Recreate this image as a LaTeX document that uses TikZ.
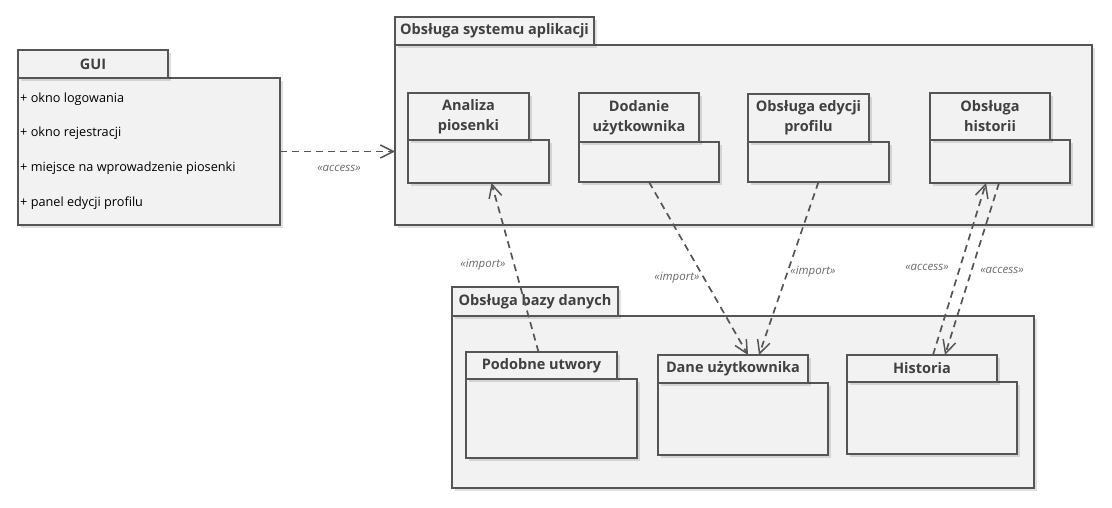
\documentclass[tikz,border=0pt]{standalone}
\usepackage{fontspec}
\setmainfont{Open Sans}
\usetikzlibrary{arrows.meta,shadows}
\definecolor{lc}{HTML}{555555}
\definecolor{bg}{HTML}{F2F2F2}
\definecolor{tc}{HTML}{404040}
\definecolor{lbl}{HTML}{6A6A6A}
\begin{document}
\begin{tikzpicture}[x=1pt,y=-1pt,
  box/.style={draw=lc, fill=bg, line width=1.6pt, inner sep=0pt, outer sep=0pt, anchor=north west,
    text=tc, align=center, font=\fontsize{14.5}{20}\selectfont\bfseries,
    drop shadow={shadow xshift=3pt, shadow yshift=-3pt, opacity=0.12, fill=black}},
  item/.style={anchor=west, inner sep=0pt, text=black, font=\fontsize{12.7}{14}\selectfont},
  dep/.style={draw=lc, line width=1.7pt, dash pattern=on 7pt off 5pt,
    -{Straight Barb[length=13pt,width=13pt,line width=1.5pt]}},
  stereo/.style={text=lbl, inner sep=1pt, font=\fontsize{11.5}{13}\selectfont\itshape}
]
\useasboundingbox (0,0) rectangle (1112,508);

% GUI
\node[box, minimum width=262pt, minimum height=147pt] (guiB) at (18,78) {};
\node[box, minimum width=150pt, minimum height=28pt] (guiT) at (18,50) {GUI};
\node[item] (g1) at (20,99) {+ okno logowania};
\node[item] (g2) at (20,133) {+ okno rejestracji};
\node[item] (g3) at (20,168) {+ miejsce na wprowadzenie piosenki};
\node[item] (g4) at (20,203) {+ panel edycji profilu};

% Obsługa systemu aplikacji
\node[box, minimum width=697pt, minimum height=180pt] (sysB) at (395,45) {};
\node[box, minimum width=199pt, minimum height=28pt] (sysT) at (395,17) {Obsługa systemu aplikacji};

\node[box, minimum width=141pt, minimum height=43pt] (anB) at (408,140) {};
\node[box, minimum width=121pt, minimum height=47pt] (anT) at (408,93) {Analiza\\piosenki};

\node[box, minimum width=140pt, minimum height=40pt] (doB) at (579,142) {};
\node[box, minimum width=120pt, minimum height=49pt] (doT) at (579,93) {Dodanie\\użytkownika};

\node[box, minimum width=141pt, minimum height=40pt] (edB) at (748,142) {};
\node[box, minimum width=121pt, minimum height=48pt] (edT) at (748,94) {Obsługa edycji\\profilu};

\node[box, minimum width=140pt, minimum height=43pt] (hbB) at (930,140) {};
\node[box, minimum width=120pt, minimum height=47pt] (hbT) at (930,93) {Obsługa\\historii};

% Obsługa bazy danych
\node[box, minimum width=582pt, minimum height=172pt] (dbB) at (452,316) {};
\node[box, minimum width=166pt, minimum height=29pt] (dbT) at (452,287) {Obsługa bazy danych};

\node[box, minimum width=171pt, minimum height=79pt] (poB) at (466,379) {};
\node[box, minimum width=151pt, minimum height=27pt] (poT) at (466,352) {Podobne utwory};

\node[box, minimum width=170pt, minimum height=72pt] (daB) at (658,383) {};
\node[box, minimum width=150pt, minimum height=28pt] (daT) at (658,355) {Dane użytkownika};

\node[box, minimum width=170pt, minimum height=72pt] (hiB) at (847,382) {};
\node[box, minimum width=150pt, minimum height=27pt] (hiT) at (847,355) {Historia};

% connectors
\draw[dep] (guiB.east) -- (guiB.east -| sysB.west);
\node[stereo] (l1) at (339,168) {«access»};

\draw[dep] ([xshift=-3pt]poT.north) -- ([xshift=13pt]anB.south);
\node[stereo] (l2) at (483,265) {«import»};

\draw[dep] (doB.south) -- ([xshift=15pt]daT.north);
\node[stereo] (l3) at (677,278) {«import»};

\draw[dep] (edB.south) -- ([xshift=26pt]daT.north);
\node[stereo] (l4) at (813,272) {«import»};

\draw[dep] ([xshift=11pt]hiT.north) -- ([xshift=-14pt]hbB.south);
\node[stereo] (l5) at (927,267) {«access»};

\draw[dep] ([xshift=-1pt]hbB.south) -- ([xshift=23pt]hiT.north);
\node[stereo] (l6) at (1002,270) {«access»};
\end{tikzpicture}
\end{document}
